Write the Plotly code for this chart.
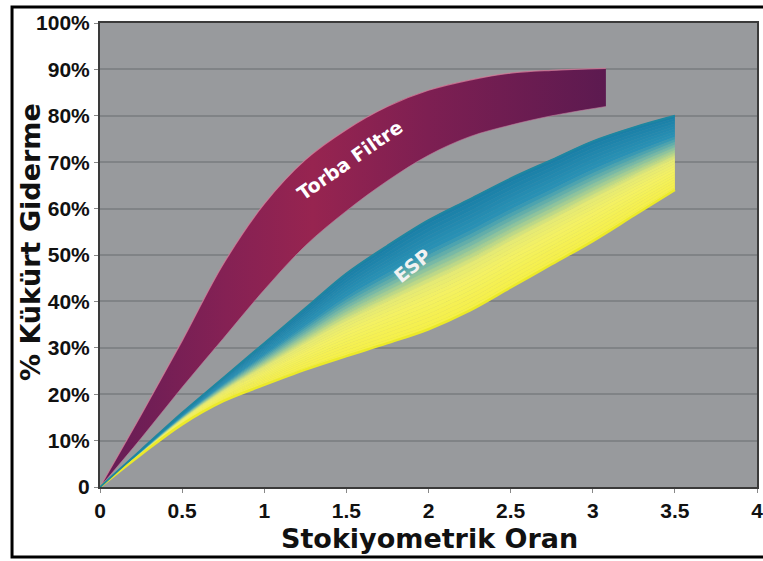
import plotly.graph_objects as go
import numpy as np

# ---- data ----
x_torba = [0, 0.25, 0.5, 0.75, 1.0, 1.25, 1.5, 1.75, 2.0, 2.25, 2.5, 2.75, 3.08]
torba_upper = [0, 15.5, 31.5, 48, 61, 70.5, 77, 82, 85.5, 87.7, 89.2, 89.8, 90.2]
torba_lower = [0, 10.5, 21.5, 32, 42.5, 52, 59.5, 66, 71.5, 75.5, 78, 80, 82]

x_esp = [0, 0.25, 0.5, 0.75, 1.0, 1.25, 1.5, 1.75, 2.0, 2.25, 2.5, 2.75, 3.0, 3.25, 3.5]
esp_upper = [0, 8, 16, 23.5, 31, 38.5, 46, 52, 57.5, 62, 66.5, 70.5, 74.5, 77.5, 80]
esp_lower = [0, 7, 13.5, 18.5, 22, 25.3, 28.2, 31, 34, 38, 43, 48, 53, 58.5, 64]

x_ticks = [0, 0.5, 1, 1.5, 2, 2.5, 3, 3.5, 4]
x_ticktext = ["0", "0.5", "1", "1.5", "2", "2.5", "3", "3.5", "4"]
y_ticks = [0, 10, 20, 30, 40, 50, 60, 70, 80, 90, 100]
y_ticktext = ["0", "10%", "20%", "30%", "40%", "50%", "60%", "70%", "80%", "90%", "100%"]

FONT = "Liberation Sans, Arial, sans-serif"
TITLE_FONT = "DejaVu Sans, Verdana, sans-serif"

fig = go.Figure()

# ---- Torba Filtre band ----
fig.add_trace(go.Scatter(x=x_torba, y=torba_lower, mode="lines",
                         line=dict(width=1, color="rgba(190,120,155,0.6)", shape="spline"),
                         hoverinfo="skip", showlegend=False))
fig.add_trace(go.Scatter(x=x_torba, y=torba_upper, mode="lines",
                         line=dict(width=1.2, color="rgba(215,125,155,0.75)", shape="spline"),
                         fill="tonexty",
                         fillgradient=dict(type="horizontal", start=0, stop=3.08,
                                           colorscale=[[0, "#641c56"], [0.25, "#852154"], [0.42, "#972450"],
                                                       [0.65, "#7d1f52"], [1, "#5c1a50"]]),
                         hoverinfo="skip", showlegend=False))

# ---- ESP band (colour blended from yellow at the lower edge to blue at the upper edge) ----
esp_lo = np.array(esp_lower, dtype=float)
esp_hi = np.array(esp_upper, dtype=float)
n_strips = 28
stops = [(0.0, (245, 240, 70)), (0.28, (244, 241, 100)), (0.42, (228, 234, 118)),
         (0.58, (125, 188, 165)), (0.72, (42, 146, 182)), (1.0, (25, 126, 166))]

def blend(t):
    for (t0, c0), (t1, c1) in zip(stops[:-1], stops[1:]):
        if t <= t1:
            f = (t - t0) / (t1 - t0)
            return "rgb(%d,%d,%d)" % tuple(round(a + (b - a) * f) for a, b in zip(c0, c1))
    return "rgb(%d,%d,%d)" % stops[-1][1]

fig.add_trace(go.Scatter(x=x_esp, y=esp_lower, mode="lines", line=dict(width=0, shape="spline"),
                         hoverinfo="skip", showlegend=False))
for i in range(1, n_strips + 1):
    f = i / n_strips
    col = blend((i - 0.5) / n_strips)
    fig.add_trace(go.Scatter(x=x_esp, y=list(esp_lo + f * (esp_hi - esp_lo)), mode="lines",
                             line=dict(width=0.8, color=col, shape="spline"),
                             fill="tonexty", fillcolor=col, hoverinfo="skip", showlegend=False))

# edges
fig.add_trace(go.Scatter(x=x_esp, y=esp_lower, mode="lines", line=dict(width=2.5, color="#ebe92a", shape="spline"),
                         hoverinfo="skip", showlegend=False))
fig.add_trace(go.Scatter(x=x_esp, y=esp_upper, mode="lines", line=dict(width=2, color="#1f86a0", shape="spline"),
                         hoverinfo="skip", showlegend=False))

# ---- labels inside bands ----
fig.add_annotation(x=1.52, y=70.5, text="<b>Torba Filtre</b>", showarrow=False, textangle=-35,
                   font=dict(family=TITLE_FONT, size=19, color="white"))
fig.add_annotation(x=1.905, y=47.8, text="<b>ESP</b>", showarrow=False, textangle=-39,
                   font=dict(family=TITLE_FONT, size=19, color="#f2f2f2"))

# ---- axis titles ----
fig.add_annotation(xref="paper", yref="paper", x=-0.1065, y=0.528, xanchor="center", yanchor="middle",
                   text="<b>% Kükürt Giderme</b>", showarrow=False, textangle=-90,
                   font=dict(family=TITLE_FONT, size=27, color="#111"))
fig.add_annotation(xref="paper", yref="paper", x=0.502, y=-0.110, xanchor="center", yanchor="middle",
                   text="<b>Stokiyometrik Oran</b>", showarrow=False,
                   font=dict(family=TITLE_FONT, size=27, color="#111"))

# ---- outer frame ----
fig.add_shape(type="rect", xref="paper", yref="paper", x0=-0.1339, x1=1.03, y0=-0.1509, y1=1.0345,
              line=dict(color="black", width=3), fillcolor="rgba(0,0,0,0)", layer="above")

fig.update_layout(
    width=763, height=561,
    margin=dict(l=100, r=6, t=23, b=74, autoexpand=False),
    paper_bgcolor="white",
    plot_bgcolor="#989a9d",
    showlegend=False,
    font=dict(family=FONT, color="black"),
    xaxis=dict(range=[0, 4], tickvals=x_ticks, ticktext=x_ticktext, automargin=False,
               ticklabeloverflow="allow",
               tickfont=dict(family=FONT, size=21, color="#111", weight="bold"),
               showgrid=False, zeroline=False, showline=True, linecolor="#3a3a3a", linewidth=2,
               mirror=True, ticks="outside", ticklen=4, tickcolor="#888", tickwidth=1),
    yaxis=dict(range=[0, 100], tickvals=y_ticks, ticktext=y_ticktext, automargin=False,
               ticklabeloverflow="allow",
               tickfont=dict(family=FONT, size=21, color="#111", weight="bold"),
               showgrid=True, gridcolor="#808386", gridwidth=1.5, zeroline=False,
               showline=True, linecolor="#3a3a3a", linewidth=2, mirror=True,
               ticks="outside", ticklen=4, tickcolor="#888", tickwidth=1),
)

fig.write_html("out.html", config={"displayModeBar": False},
               post_script="document.body.style.margin='0px';document.body.style.overflow='hidden';")
